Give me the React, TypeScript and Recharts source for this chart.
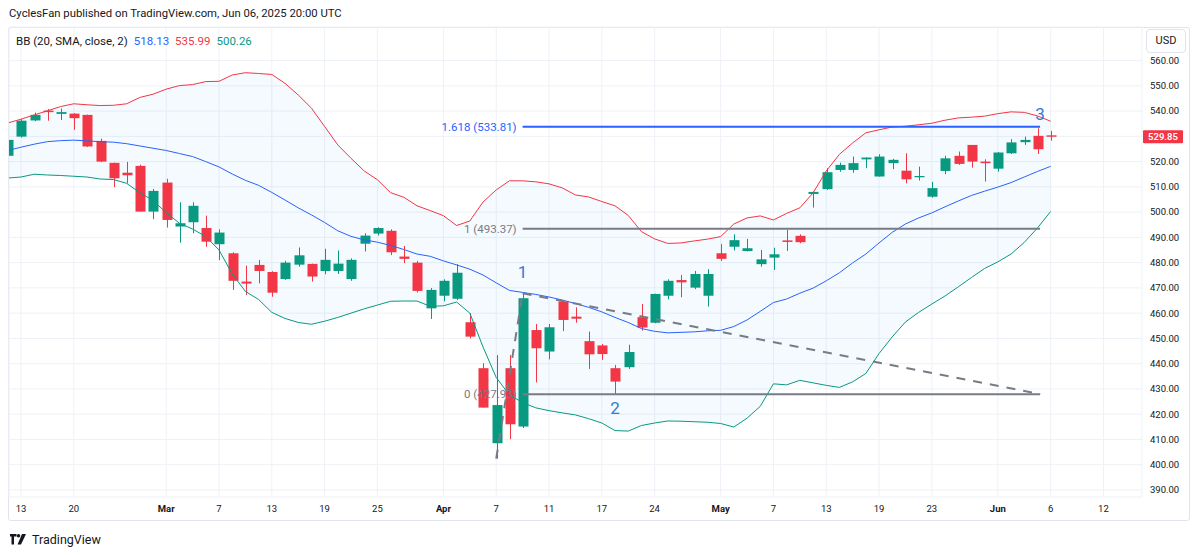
import React from 'react';
import {
  ComposedChart,
  Bar,
  Line,
  Area,
  XAxis,
  YAxis,
  CartesianGrid,
  ReferenceLine,
  ReferenceDot,
} from 'recharts';

// daily bars, index 0 = Feb 13 2025, index -1 = Feb 12 (cut at the left edge)
const firstIndex = -1;

const opens = [
  522.3, 529.9, 536.3, 540.2, 538.9, 539.0, 538.5, 528.2, 519.5, 515.6,
  518.3, 500.2, 511.7, 494.3, 496.0, 493.7, 487.3, 483.7, 472.5, 479.1,
  476.3, 473.5, 479.2, 479.5, 476.7, 476.7, 473.5, 487.5, 491.5, 492.6,
  482.4, 480.0, 461.9, 466.9, 465.7, 456.4, 438.2, 408.5, 438.2, 415.1,
  453.3, 444.8, 464.6, 458.6, 448.9, 447.2, 438.2, 438.6, 458.4, 456.2,
  466.9, 473.1, 470.1, 466.9, 483.7, 486.3, 484.6, 479.4, 482.0, 488.8,
  490.6, 507.2, 509.1, 516.7, 516.7, 520.9, 514.1, 519.4, 516.4, 513.8,
  506.1, 516.3, 522.3, 526.6, 520.0, 517.2, 523.3, 527.7, 530.2, 530.4,
];
const highs = [
  529.0, 536.8, 539.4, 540.8, 541.0, 539.2, 538.6, 529.1, 519.6, 519.9,
  518.8, 509.2, 513.2, 503.9, 503.9, 498.6, 493.2, 484.1, 478.8, 481.1,
  476.6, 480.7, 486.0, 479.6, 485.5, 484.8, 481.7, 491.6, 494.0, 493.2,
  486.6, 480.7, 469.9, 473.4, 479.4, 460.0, 440.2, 443.4, 443.4, 467.9,
  455.7, 455.7, 465.2, 462.3, 452.7, 447.8, 439.5, 447.5, 463.6, 467.7,
  473.4, 475.1, 476.7, 477.4, 487.4, 491.2, 489.4, 485.0, 485.9, 493.0,
  491.2, 508.1, 517.4, 519.6, 522.0, 521.7, 522.9, 521.1, 523.3, 518.0,
  512.0, 522.3, 524.0, 526.6, 520.9, 523.8, 528.9, 529.9, 533.2, 532.2,
];
const lows = [
  521.8, 529.5, 536.0, 536.2, 536.5, 532.6, 525.8, 519.8, 509.9, 511.4,
  500.2, 497.2, 493.9, 487.9, 491.6, 486.3, 481.0, 469.2, 467.2, 471.8,
  466.5, 473.2, 478.4, 472.5, 475.4, 475.5, 472.8, 484.4, 490.7, 483.0,
  479.8, 468.2, 457.7, 464.7, 465.2, 450.0, 422.6, 402.4, 410.1, 414.5,
  432.6, 441.7, 452.9, 456.2, 437.9, 441.5, 427.9, 437.9, 453.1, 456.0,
  465.5, 466.3, 469.5, 462.6, 480.7, 484.8, 484.4, 478.4, 477.1, 484.6,
  487.7, 501.8, 508.8, 516.0, 515.6, 517.4, 514.1, 517.0, 511.4, 512.5,
  505.7, 515.0, 518.7, 517.6, 512.1, 516.0, 523.0, 526.6, 523.0, 528.3,
];
const closes = [
  528.6, 536.2, 538.5, 539.6, 539.6, 537.2, 526.0, 520.0, 513.4, 514.6,
  500.2, 508.4, 496.9, 495.6, 502.5, 488.3, 491.9, 472.8, 471.7, 476.7,
  468.1, 480.0, 482.9, 474.5, 481.1, 479.6, 481.1, 490.7, 493.7, 484.1,
  481.5, 468.8, 469.2, 472.8, 476.0, 450.7, 422.6, 423.6, 416.0, 465.9,
  446.1, 454.4, 457.3, 457.8, 443.7, 443.8, 432.9, 444.6, 454.3, 467.6,
  472.8, 472.2, 475.5, 475.5, 481.5, 488.9, 485.7, 481.3, 483.3, 488.2,
  488.1, 508.0, 515.8, 518.7, 519.4, 521.6, 522.0, 520.7, 513.0, 514.3,
  509.5, 521.3, 519.1, 520.0, 519.4, 523.6, 527.6, 528.6, 524.9, 529.85,
];

// Bollinger Bands (20, SMA, close, 2) as drawn
const bbUpper = [
  535.3, 536.8, 538.5, 540.1, 541.8, 542.9, 542.5, 542.2, 542.3, 542.9,
  545.4, 546.7, 548.7, 550.1, 550.5, 551.7, 551.8, 554.3, 555.2, 554.9,
  554.5, 551.0, 546.4, 541.2, 533.9, 526.6, 521.3, 516.3, 512.8, 507.7,
  505.9, 502.5, 500.6, 498.6, 494.7, 496.5, 504.0, 508.8, 512.4, 512.4,
  512.0, 511.2, 509.6, 506.8, 506.0, 504.2, 502.5, 498.7, 492.3, 489.4,
  487.6, 487.8, 488.6, 489.3, 490.3, 495.3, 497.7, 498.5, 496.9, 499.5,
  501.7, 507.6, 516.3, 522.9, 527.4, 531.4, 532.6, 533.7, 534.0, 534.6,
  535.2, 536.4, 537.3, 537.6, 538.0, 539.0, 539.7, 539.5, 538.1, 535.99,
];
const bbBasis = [
  524.4, 525.7, 526.9, 527.9, 528.3, 528.5, 528.2, 527.9, 527.7, 527.1,
  526.2, 525.3, 524.4, 523.2, 522.0, 520.0, 517.9, 515.1, 512.6, 510.6,
  507.8, 504.8, 501.7, 498.9, 495.9, 492.6, 490.4, 489.0, 488.1, 486.8,
  485.2, 483.4, 482.5, 480.7, 479.1, 477.4, 475.1, 472.0, 469.0, 468.2,
  467.4, 466.4, 465.2, 463.8, 462.3, 460.5, 458.3, 456.3, 453.9, 452.8,
  452.2, 452.4, 452.6, 453.0, 453.2, 454.7, 457.3, 460.7, 464.2, 465.6,
  467.9, 469.9, 472.8, 476.0, 479.9, 483.4, 487.8, 492.0, 495.3, 497.7,
  499.7, 502.1, 504.4, 506.6, 508.3, 509.9, 511.7, 513.9, 516.1, 518.13,
];
const bbLower = [
  513.5, 513.9, 515.0, 514.7, 514.5, 514.2, 513.9, 513.1, 512.9, 511.4,
  507.7, 504.6, 499.8, 495.6, 493.3, 490.3, 485.0, 475.5, 468.6, 465.4,
  460.3, 457.9, 456.3, 455.6, 456.8, 458.3, 460.0, 461.7, 463.2, 464.7,
  464.8, 464.8, 462.7, 462.9, 464.4, 460.0, 446.6, 434.5, 427.6, 424.6,
  422.5, 421.4, 420.5, 419.7, 418.2, 416.5, 413.5, 413.3, 415.5, 416.5,
  417.3, 417.2, 417.0, 416.8, 416.3, 414.9, 418.4, 423.1, 432.0, 431.6,
  433.4, 432.4, 431.4, 430.6, 432.8, 436.1, 444.0, 450.6, 456.5, 460.3,
  463.6, 466.8, 470.4, 474.1, 477.7, 480.3, 483.4, 488.0, 493.7, 500.26,
];

const timeTicks = [0, 4, 11, 15, 19, 23, 27, 32, 36, 40, 44, 48, 53, 57, 61, 65, 69, 74, 78, 82];
const timeLabels = ['13', '20', 'Mar', '7', '13', '19', '25', 'Apr', '7', '11', '17', '24', 'May', '7', '13', '19', '23', 'Jun', '6', '12'];
const monthLabels = ['Mar', 'Apr', 'May', 'Jun'];
const priceTicks = [390, 400, 410, 420, 430, 440, 450, 460, 470, 480, 490, 500, 510, 520, 530, 540, 550, 560];

// fib levels drawn from the Apr 9 bar to Jun 5
const fibRatios = ['1.618', '1', '0'];
const fibPrices = [533.81, 493.37, 427.93];
const fibColors = ['#2962ff', '#787b86', '#787b86'];
const fibFrom = 38;
const fibTo = 77.2;

// dashed trend line: Apr 7 low -> Apr 9 high -> fib 0 at the right
const trendIdx = [36, 38, 77.2];
const trendPrice = [402.4, 467.9, 427.93];

const waveLabels = ['1', '2', '3'];
const waveIdx = [38, 45, 77.2];
const wavePrice = [476.3, 422.3, 538.9];

const lastPrice = 529.85;

const GREEN = '#089981';
const RED = '#f23645';
const BLUE = '#2962ff';
const TEXT = '#131722';
const FONT = 'Roboto, "Noto Sans", sans-serif';

const data = opens.map((o, k) => ({
  i: k + firstIndex,
  open: o,
  high: highs[k],
  low: lows[k],
  close: closes[k],
  upper: bbUpper[k],
  basis: bbBasis[k],
  lower: bbLower[k],
}));

function Candle(props: any) {
  const { x, y, width, height, payload } = props;
  if (!payload || x == null || y == null) return null;
  const { open, close, high, low } = payload;
  const top = Math.min(y, y + height);
  const bot = Math.max(y, y + height);
  const span = high - low || 1;
  const py = (v: number) => top + ((high - v) / span) * (bot - top);
  const cx = Math.round(x + width / 2);
  const color = close >= open ? GREEN : RED;
  const bTop = py(Math.max(open, close));
  const bBot = py(Math.min(open, close));
  return (
    <g>
      <line x1={cx + 0.5} x2={cx + 0.5} y1={top} y2={bot} stroke={color} strokeWidth={1} />
      <rect x={cx - 4.5} y={bTop} width={10} height={Math.max(1, bBot - bTop)} fill={color} />
    </g>
  );
}

function TimeTick(props: any) {
  const { x, y, payload } = props;
  const label = timeLabels[timeTicks.indexOf(payload.value)] ?? '';
  return (
    <text
      x={x}
      y={y}
      dy="0.71em"
      textAnchor="middle"
      fill={TEXT}
      fontSize={9.5}
      fontFamily={FONT}
      fontWeight={monthLabels.includes(label) ? 700 : 400}
    >
      {label}
    </text>
  );
}

function PriceTag(props: any) {
  const vb = props.viewBox;
  if (!vb) return null;
  const left = vb.x + vb.width + 1;
  return (
    <g>
      <rect x={left} y={vb.y - 6.5} width={40} height={13} rx={1} fill={RED} />
      <text x={left + 20} y={vb.y + 3.3} textAnchor="middle" fill="#fff" fontSize={9.5} fontFamily={FONT} fontWeight={600}>
        {lastPrice.toFixed(2)}
      </text>
    </g>
  );
}

function TvLogo() {
  return (
    <svg width={18} height={12} viewBox="0 0 36 24" style={{ display: 'block' }}>
      <path d="M0 0h13v5H8v16H3V5H0z" fill={TEXT} />
      <circle cx={17} cy={3.5} r={3.5} fill={TEXT} />
      <path d="M24 0h8L22 21h-7z" fill={TEXT} />
    </svg>
  );
}

export default function App() {
  return (
    <div style={{ position: 'absolute', left: 0, top: 0, width: 1200, height: 555, background: '#fff', fontFamily: FONT, color: TEXT, overflow: 'hidden' }}>
      <div style={{ position: 'absolute', left: 9, top: 7, fontSize: 11.3, whiteSpace: 'nowrap' }}>
        CyclesFan published on TradingView.com, Jun 06, 2025 20:00 UTC
      </div>
      <div
        style={{
          position: 'absolute',
          left: 8,
          top: 27,
          width: 1182,
          height: 494,
          border: '1px solid #e0e3eb',
          borderRadius: 3,
          boxSizing: 'border-box',
        }}
      />
      <div style={{ position: 'absolute', left: 0, top: 0 }}>
        <ComposedChart width={1200} height={555} data={data} margin={{ top: 27, right: 8, bottom: 34, left: 9 }}>
          <CartesianGrid stroke="#eef1f6" strokeWidth={1} />
          <XAxis
            dataKey="i"
            type="number"
            domain={[-0.909, 84.92]}
            allowDataOverflow
            ticks={timeTicks}
            interval={0}
            tick={<TimeTick />}
            axisLine={false}
            tickLine={false}
            height={24}
          />
          <YAxis
            orientation="right"
            type="number"
            domain={[387.2, 573.3]}
            allowDataOverflow
            ticks={priceTicks}
            interval={0}
            tickFormatter={(v: number) => (v === 530 ? '' : v.toFixed(2))}
            tick={{ fill: TEXT, fontSize: 9.5, fontFamily: FONT }}
            axisLine={false}
            tickLine={false}
            width={50}
          />
          <Area
            dataKey={(d: any) => [d.lower, d.upper]}
            fill="#2196f3"
            fillOpacity={0.05}
            stroke="none"
            isAnimationActive={false}
          />
          <Line dataKey="upper" stroke={RED} strokeWidth={1} dot={false} isAnimationActive={false} />
          <Line dataKey="basis" stroke={BLUE} strokeWidth={1} dot={false} isAnimationActive={false} />
          <Line dataKey="lower" stroke={GREEN} strokeWidth={1} dot={false} isAnimationActive={false} />
          {fibPrices.map((p, k) => (
            <ReferenceLine
              key={fibRatios[k]}
              segment={[{ x: fibFrom, y: p }, { x: fibTo, y: p }]}
              stroke={fibColors[k]}
              strokeWidth={2}
              label={{
                value: `${fibRatios[k]} (${p.toFixed(2)})`,
                position: 'left',
                offset: 6,
                fill: fibColors[k],
                fontSize: 11.5,
                fontFamily: FONT,
              }}
            />
          ))}
          <ReferenceLine
            segment={[{ x: trendIdx[0], y: trendPrice[0] }, { x: trendIdx[1], y: trendPrice[1] }]}
            stroke="#787b86"
            strokeWidth={2}
            strokeDasharray="9 8"
          />
          <ReferenceLine
            segment={[{ x: trendIdx[1], y: trendPrice[1] }, { x: trendIdx[2], y: trendPrice[2] }]}
            stroke="#787b86"
            strokeWidth={2}
            strokeDasharray="9 8"
          />
          <Bar dataKey={(d: any) => [d.low, d.high]} barSize={10} shape={Candle} isAnimationActive={false} />
          {waveLabels.map((w, k) => (
            <ReferenceDot
              key={w}
              x={waveIdx[k]}
              y={wavePrice[k]}
              r={0}
              fill="none"
              stroke="none"
              label={{ value: w, position: 'center', fill: '#3179d8', fontSize: 17, fontFamily: FONT }}
            />
          ))}
          <ReferenceLine y={lastPrice} stroke="none" label={(p: any) => <PriceTag {...p} />} />
        </ComposedChart>
      </div>
      <div style={{ position: 'absolute', left: 16, top: 34, fontSize: 11.5, whiteSpace: 'nowrap' }}>
        BB (20, SMA, close, 2)
        <span style={{ color: BLUE, marginLeft: 6 }}>518.13</span>
        <span style={{ color: RED, marginLeft: 6 }}>535.99</span>
        <span style={{ color: GREEN, marginLeft: 6 }}>500.26</span>
      </div>
      <div
        style={{
          position: 'absolute',
          left: 1146,
          top: 29,
          width: 40,
          height: 24,
          border: '1px solid #e0e3eb',
          borderRadius: 4,
          boxSizing: 'border-box',
          fontSize: 11,
          lineHeight: '22px',
          textAlign: 'center',
          background: '#fff',
        }}
      >
        USD
      </div>
      <div style={{ position: 'absolute', left: 10, top: 532, display: 'flex', alignItems: 'center', gap: 4 }}>
        <TvLogo />
        <span style={{ fontSize: 12.5 }}>TradingView</span>
      </div>
    </div>
  );
}
